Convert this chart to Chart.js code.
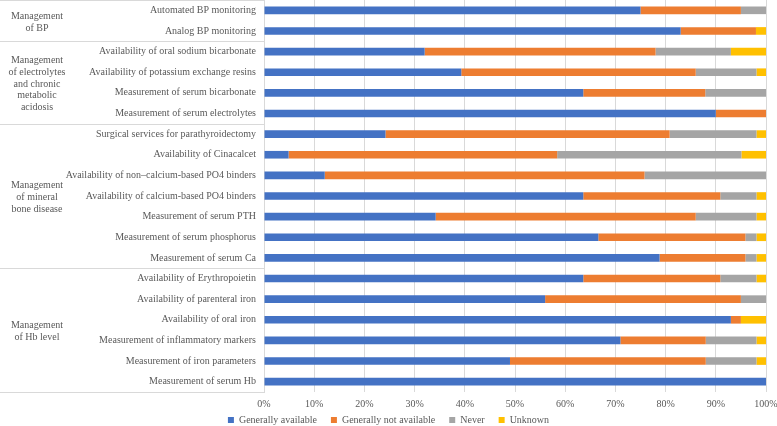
<!DOCTYPE html>
<html>
<head>
<meta charset="utf-8">
<script src="https://cdn.jsdelivr.net/npm/chart.js@4.4.1/dist/chart.umd.min.js"></script>
<style>
  html, body { margin: 0; padding: 0; background: #fff; }
  #wrap { width: 777px; height: 426px; position: relative; }
</style>
</head>
<body>
<div id="wrap"><canvas id="myChart"></canvas></div>
<script>
const categories = [
    "Automated BP monitoring",
    "Analog BP monitoring",
    "Availability of oral sodium bicarbonate",
    "Availability of potassium exchange resins",
    "Measurement of serum bicarbonate",
    "Measurement of serum electrolytes",
    "Surgical services for parathyroidectomy",
    "Availability of Cinacalcet",
    "Availability of non\u2013calcium-based PO4 binders",
    "Availability of calcium-based PO4 binders",
    "Measurement of serum PTH",
    "Measurement of serum phosphorus",
    "Measurement of serum Ca",
    "Availability of Erythropoietin",
    "Availability of parenteral iron",
    "Availability of oral iron",
    "Measurement of inflammatory markers",
    "Measurement of iron parameters",
    "Measurement of serum Hb"
];

const generallyAvailable = [75, 83, 32, 39.3, 63.6, 90, 24.2, 4.9, 12.1, 63.6, 34.2, 66.6, 78.8, 63.6, 56, 93, 71, 49, 100];
const generallyNotAvailable = [20, 15, 46, 46.7, 24.3, 10, 56.6, 53.5, 63.7, 27.3, 51.8, 29.3, 17.1, 27.3, 39, 2, 17, 39, 0];
const never = [5, 0, 15, 12.1, 12.1, 0, 17.3, 36.7, 24.2, 7.2, 12.1, 2.2, 2.2, 7.2, 5, 0, 10.1, 10.1, 0];
const unknown = [0, 2, 7, 1.9, 0, 0, 1.9, 4.9, 0, 1.9, 1.9, 1.9, 1.9, 1.9, 0, 5, 1.9, 1.9, 0];

const groupNames = [
    ["Management", "of BP"],
    ["Management", "of electrolytes", "and chronic", "metabolic", "acidosis"],
    ["Management", "of mineral", "bone disease"],
    ["Management", "of Hb level"]
];
const groupSizes = [2, 4, 7, 6];

const xTicks = [0, 10, 20, 30, 40, 50, 60, 70, 80, 90, 100];

const textColor = "#595959";
const lineColor = "#d9d9d9";
const serif = "'Liberation Serif', 'Times New Roman', serif";

// group labels + separator lines in the left label area
const groupPlugin = {
    id: "groups",
    afterLayout(chart) {
        // let the legend box start higher so its text sits right under the tick labels
        if (chart.legend) {
            chart.legend.top -= 9;
        }
    },
    afterDraw(chart) {
        const ctx = chart.ctx;
        const area = chart.chartArea;
        const yScale = chart.scales.y;
        const band = (area.bottom - area.top) / categories.length;
        ctx.save();
        ctx.strokeStyle = lineColor;
        ctx.lineWidth = 1;
        ctx.fillStyle = textColor;
        ctx.font = "10px " + serif;
        ctx.textAlign = "center";
        ctx.textBaseline = "middle";

        let start = 0;
        const lines = [area.top + 0.5];
        groupSizes.forEach((size, i) => {
            const top = yScale.getPixelForValue(start) - band / 2;
            const bottom = yScale.getPixelForValue(start + size - 1) + band / 2;
            lines.push(Math.round(bottom) + 0.5);
            const names = groupNames[i];
            const lh = 11.7;
            const mid = (top + bottom) / 2 + 1.5;
            names.forEach((t, k) => {
                ctx.fillText(t, 37, mid + (k - (names.length - 1) / 2) * lh);
            });
            start += size;
        });
        lines.forEach((y) => {
            ctx.beginPath();
            ctx.moveTo(0, y);
            ctx.lineTo(area.left, y);
            ctx.stroke();
        });
        ctx.restore();
    }
};

const datasets = [
    { label: "Generally available", data: generallyAvailable, backgroundColor: "#4472C4" },
    { label: "Generally not available", data: generallyNotAvailable, backgroundColor: "#ED7D31" },
    { label: "Never", data: never, backgroundColor: "#A5A5A5" },
    { label: "Unknown", data: unknown, backgroundColor: "#FFC000" }
].map((d) => ({ ...d, categoryPercentage: 1, barPercentage: 0.37, borderWidth: 0 }));

const config = {
    type: "bar",
    data: { labels: categories, datasets },
    options: {
        indexAxis: "y",
        responsive: true,
        maintainAspectRatio: false,
        animation: false,
        layout: { padding: 0 },
        scales: {
            x: {
                stacked: true,
                min: 0,
                max: 100,
                afterBuildTicks: (scale) => {
                    scale.ticks = xTicks.map((v) => ({ value: v }));
                },
                afterFit: (scale) => {
                    scale.height = 18;
                    scale.paddingLeft = 0;
                    scale.paddingRight = 11;
                },
                ticks: {
                    color: textColor,
                    font: { family: serif, size: 10 },
                    padding: 6,
                    callback: (v) => v + "%"
                },
                grid: { color: lineColor, drawTicks: false },
                border: { display: false }
            },
            y: {
                stacked: true,
                afterFit: (scale) => {
                    scale.width = 264;
                    scale.paddingTop = 0;
                    scale.paddingBottom = 0;
                },
                ticks: {
                    color: textColor,
                    font: { family: serif, size: 10 },
                    padding: 8,
                    autoSkip: false
                },
                grid: { display: false, drawTicks: false },
                border: { display: true, color: lineColor }
            }
        },
        plugins: {
            legend: {
                position: "bottom",
                maxHeight: 16,
                labels: {
                    color: textColor,
                    font: { family: serif, size: 10 },
                    boxWidth: 6,
                    boxHeight: 6,
                    padding: 14
                }
            },
            tooltip: { enabled: false }
        }
    },
    plugins: [groupPlugin]
};

const myChart = new Chart(document.querySelector("#myChart"), config);
</script>
</body>
</html>
